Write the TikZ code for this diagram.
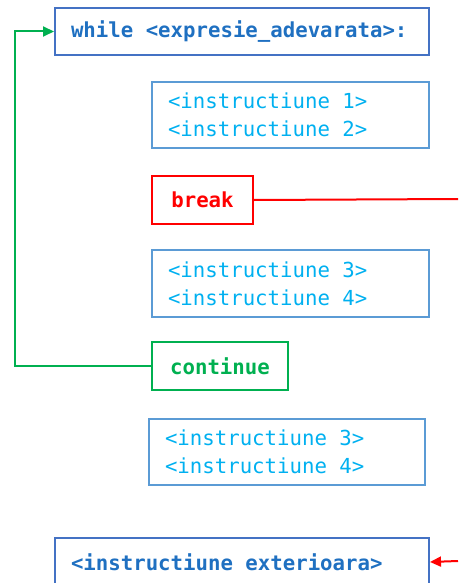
\documentclass[tikz,border=0pt]{standalone}
\usepackage{fontspec}
\setmonofont{DejaVu Sans Mono}
\usetikzlibrary{arrows.meta}

\definecolor{loopblue}{HTML}{4472C4}
\definecolor{looptext}{HTML}{1F70C1}
\definecolor{instrblue}{HTML}{5B9BD5}
\definecolor{instrtext}{HTML}{00B0F0}
\definecolor{brkred}{HTML}{FF0000}
\definecolor{contgreen}{HTML}{00B050}

% one character wide blank
\newcommand{\csp}{\hspace{0.602em}}
\newcommand{\codefont}{\ttfamily\fontsize{20.7}{28}\selectfont}

\tikzset{
  codebox/.style={draw, line width=2pt, anchor=north west, inner xsep=16pt,
    inner ysep=0pt, align=left, font=\codefont},
  loopbox/.style={codebox, draw=loopblue, text=looptext, font=\codefont\bfseries},
  instrbox/.style={codebox, draw=instrblue, text=instrtext},
  jump/.style={line width=2pt, -{Triangle[length=11pt,width=10pt]}}
}

\begin{document}
\begin{tikzpicture}[x=1pt, y=-1pt]
  \clip (0,0) rectangle (458,583);

  % loop header and body
  \node[loopbox, text width=342pt, minimum height=47pt] (head) at (54,7) {while\csp<expresie\_adevarata>:};
  \node[instrbox, text width=245pt, minimum height=66pt] (body1) at (151,81) {<instructiune\csp1>\\<instructiune\csp2>};
  \node[codebox, draw=brkred, text=brkred, font=\codefont\bfseries, minimum width=101pt, minimum height=48pt] (brk) at (151,175) {break};
  \node[instrbox, text width=245pt, minimum height=67pt] (body2) at (151,249) {<instructiune\csp3>\\<instructiune\csp4>};
  \node[codebox, draw=contgreen, text=contgreen, font=\codefont\bfseries, minimum width=136pt, minimum height=48pt] (cont) at (151,341) {continue};
  \node[instrbox, text width=244pt, minimum height=66pt] (body3) at (148,418) {<instructiune\csp3>\\<instructiune\csp4>};

  % statement after the loop
  \node[loopbox, text width=342pt, minimum height=48pt] (outer) at (54,537) {<instructiune\csp exterioara>};

  % jumps
  \coordinate (brkout) at (458,199);
  \coordinate (brkin) at (458,561);
  \draw[brkred, line width=2pt] (brk.east) -- (brkout);
  \draw[jump, brkred] (brkin) -- (outer.east);
  \draw[jump, contgreen] (cont.west) -- ++(-136,0) |- (head.west);
\end{tikzpicture}
\end{document}
